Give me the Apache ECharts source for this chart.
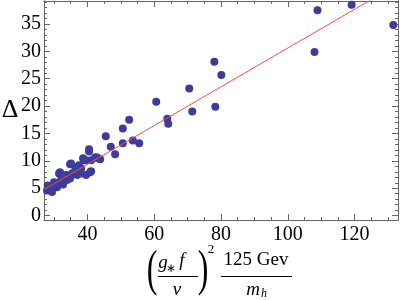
<!DOCTYPE html>
<html><head><meta charset="utf-8">
<script src="https://cdn.jsdelivr.net/npm/echarts@6/dist/echarts.min.js"></script>
<style>html,body{margin:0;padding:0;background:#fff}#c{width:400px;height:300px}</style>
</head><body><div id="c"></div>
<script>
// Scatter points
const xVals = [119.1,108.9,131.6,108.0,78.0,80.1,78.3,70.5,60.6,71.4,63.9,64.2,52.5,50.6,45.5,50.6,53.6,55.5,47.0,40.5,48.3,42.6,43.8,41.1,41.1,38.7,34.8,31.8,29.4,
  42.9,39.6,39.0,42.3,35.1,36.6,36.9,35.4,33.6,31.5,32.1,30.0,29.1,27.9,29.4,30.9,33.9,38.1,39.6,40.8,38.1,32.7,34.8,36.2,37.5,30.5,28.1,40.5];
const yVals = [38.5,37.5,34.8,29.9,28.1,25.7,19.9,23.2,20.8,19.0,17.7,16.8,17.5,15.9,14.5,13.2,13.7,13.2,12.6,12.1,11.2,10.6,10.3,10.1,8.1,10.5,9.4,7.9,4.6,
  10.6,10.1,10.1,10.6,9.5,8.8,7.4,7.7,7.4,7.7,6.5,6.1,5.0,4.6,4.3,5.2,6.5,8.6,7.4,7.9,7.7,5.7,6.8,8.1,9.2,5.5,5.5,11.7];
// Fit line endpoints
const fitX = [27, 133];
const fitY = [4.76, 42.3];
// Axis ticks
const xMajor = [40, 60, 80, 100, 120];
const xMinor = [30,35,45,50,55,65,70,75,85,90,95,105,110,115,125,130];
const yMajor = [0, 5, 10, 15, 20, 25, 30, 35];
const yMinor = [1,2,3,4,6,7,8,9,11,12,13,14,16,17,18,19,21,22,23,24,26,27,28,29,31,32,33,34,36,37,38,39];

const X0 = 27, X1 = 133, Y0 = -0.8, Y1 = 39.2;
const axisCol = '#666';
const font = 'Liberation Serif';

function xAx(pos, ticks, len, labels) {
  return { type: 'value', min: X0, max: X1, position: pos, splitLine: {show: false},
    axisLine: {show: true, onZero: false, lineStyle: {color: axisCol, width: 1}},
    axisTick: {show: true, inside: true, length: len, customValues: ticks, lineStyle: {color: axisCol}},
    axisLabel: labels ? {show: true, customValues: ticks, margin: 5, color: '#000', fontFamily: font, fontSize: 20} : {show: false} };
}
function yAx(pos, ticks, len, labels) {
  return { type: 'value', min: Y0, max: Y1, position: pos, splitLine: {show: false},
    axisLine: {show: true, onZero: false, lineStyle: {color: axisCol, width: 1}},
    axisTick: {show: true, inside: true, length: len, customValues: ticks, lineStyle: {color: axisCol}},
    axisLabel: labels ? {show: true, customValues: ticks, margin: 3, color: '#000', fontFamily: font, fontSize: 20} : {show: false} };
}

const chart = echarts.init(document.getElementById('c'), null, {renderer: 'canvas'});
const T = (text, x, y, size, italic, extra) => Object.assign({ type: 'text', style: { text, x, y, fill: '#000',
  font: (italic ? 'italic ' : '') + size + 'px "' + font + '"', textAlign: 'center', textVerticalAlign: 'middle' } }, extra || {});
const L = (x1, y1, x2, y2) => ({ type: 'line', shape: {x1, y1, x2, y2}, style: {stroke: '#000', lineWidth: 1} });

chart.setOption({
  animation: false,
  grid: { left: 44, right: 2, top: 1, bottom: 80 },
  xAxis: [ xAx('bottom', xMajor, 6, true), xAx('bottom', xMinor, 3, false), xAx('top', xMajor, 6, false), xAx('top', xMinor, 3, false) ],
  yAxis: [ yAx('left', yMajor, 6, true), yAx('left', yMinor, 3, false), yAx('right', yMajor, 6, false), yAx('right', yMinor, 3, false) ],
  series: [
    { type: 'scatter', xAxisIndex: 0, yAxisIndex: 0, symbol: 'circle', symbolSize: 8,
      itemStyle: {color: '#3d3d99', opacity: 1}, data: xVals.map((x, i) => [x, yVals[i]]) },
    { type: 'line', xAxisIndex: 0, yAxisIndex: 0, symbol: 'none', clip: true, z: 3,
      lineStyle: {color: '#ff4a4a', width: 1}, data: fitX.map((x, i) => [x, fitY[i]]) }
  ],
  graphic: [
    T('Δ', 10, 110, 26, false),
    T('(', 0, 0, 32, false, {x: 152, y: 272, scaleY: 1.6}),
    T('g', 163, 263, 19, true),
    T('∗', 171, 269, 12, false),
    T('f', 182, 261, 19, true),
    L(158, 276.5, 198, 276.5),
    T('v', 177, 290, 19, true),
    T(')', 0, 0, 32, false, {x: 203, y: 272, scaleY: 1.6}),
    T('2', 211, 250, 13, false),
    T('125 Gev', 256, 260, 19, false),
    L(221, 276.5, 292, 276.5),
    T('m', 253, 290, 19, true),
    T('h', 264, 294, 12, true)
  ]
});
</script></body></html>
